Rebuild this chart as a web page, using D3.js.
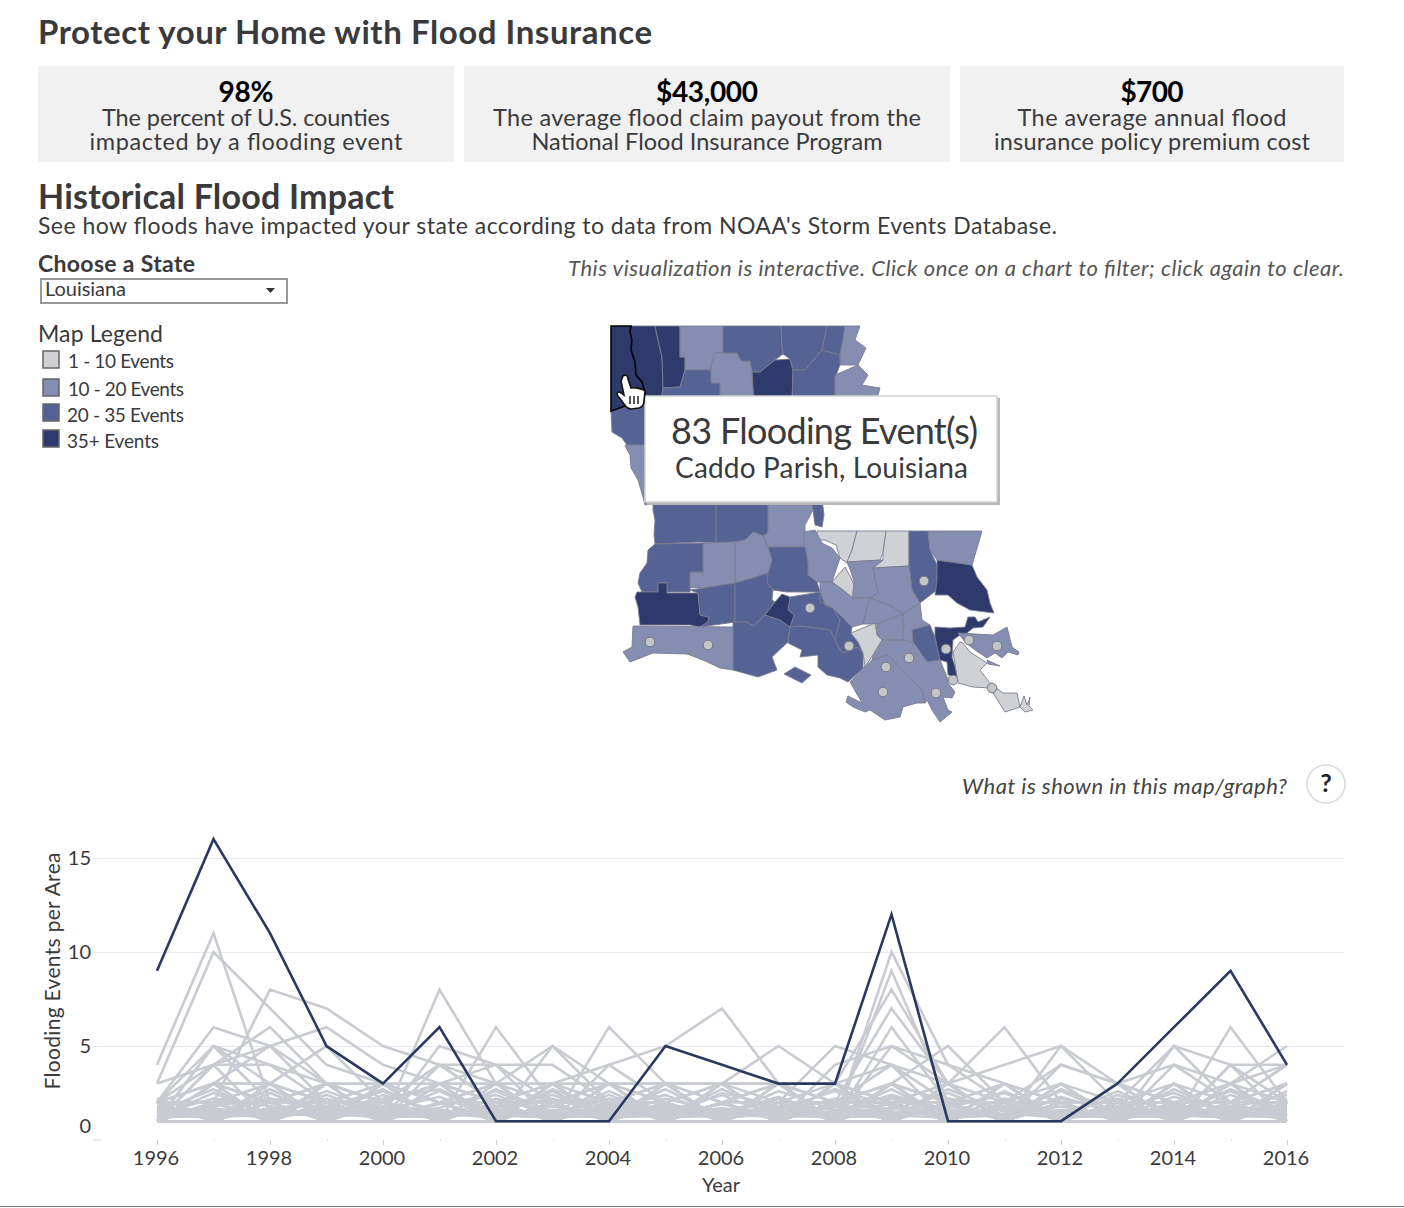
<!DOCTYPE html>
<html lang="en">
  <head>
    <meta charset="UTF-8" />
    <title>Protect your Home with Flood Insurance</title>
    <script src="https://cdnjs.cloudflare.com/ajax/libs/d3/7.8.5/d3.min.js"></script>
    <style>
      html, body { margin: 0; padding: 0; background: #fff; }
      svg { display: block; }
      text { font-family: Lato, "Open Sans", sans-serif; fill: #3a3a3c; }
      .tick line { shape-rendering: crispEdges; }
    </style>
  </head>
  <body>
    <svg id="chart" width="1404" height="1208"></svg>
    <script>
      // ---- data ----
      const years = d3.range(1996, 2017);
      const yTicks = [0, 5, 10, 15];

      // Caddo Parish, the selected line
      const caddoEvents = [9, 16, 11, 5, 3, 6, 1, 1, 1, 5, 4, 3, 3, 12, 1, 1, 1, 3, 6, 9, 4];

      // every other parish, grey
      const otherParishEvents = [
        [4, 11, 2, 1, 1, 2, 3, 1, 1, 2, 1, 2, 1, 2, 1, 1, 2, 1, 2, 1, 2],
        [3, 10, 7, 4, 3, 2, 1, 2, 1, 1, 2, 1, 3, 4, 1, 2, 1, 1, 1, 2, 1],
        [2, 6, 5, 3, 2, 3, 2, 1, 2, 1, 1, 1, 2, 7, 3, 2, 1, 1, 2, 1, 3],
        [2, 2, 8, 7, 5, 4, 2, 1, 2, 2, 1, 1, 2, 3, 2, 1, 1, 2, 1, 1, 2],
        [1, 4, 6, 3, 2, 1, 1, 2, 1, 3, 2, 1, 1, 9, 2, 1, 2, 1, 3, 1, 1],
        [2, 5, 2, 2, 1, 8, 3, 2, 1, 1, 1, 2, 1, 5, 3, 1, 2, 1, 1, 2, 4],
        [3, 4, 5, 6, 4, 3, 2, 3, 1, 1, 2, 3, 1, 10, 4, 2, 1, 1, 1, 1, 2],
        [1, 5, 4, 2, 1, 5, 4, 2, 1, 2, 1, 1, 3, 8, 3, 6, 2, 1, 2, 1, 1],
        [2, 3, 5, 2, 2, 1, 6, 2, 1, 1, 1, 2, 1, 6, 2, 3, 1, 2, 1, 3, 5],
        [1, 5, 3, 5, 3, 2, 1, 5, 2, 1, 1, 2, 5, 4, 2, 1, 5, 2, 3, 1, 2],
        [2, 4, 4, 3, 2, 4, 4, 1, 6, 3, 1, 1, 2, 3, 1, 2, 1, 1, 5, 2, 1],
        [1, 2, 3, 5, 2, 1, 2, 1, 4, 5, 7, 3, 2, 1, 2, 1, 3, 1, 1, 6, 2],
        [1, 1, 2, 3, 2, 4, 3, 5, 3, 3, 3, 5, 3, 2, 1, 1, 4, 3, 1, 4, 4],
        [2, 3, 2, 1, 1, 3, 4, 4, 2, 1, 2, 1, 4, 5, 4, 3, 2, 1, 4, 3, 4],
        [1, 4, 1, 2, 1, 4, 2, 3, 4, 2, 3, 3, 2, 4, 3, 4, 5, 3, 2, 1, 3],
        [1, 3, 3, 2, 3, 2, 1, 3, 2, 3, 1, 2, 2, 3, 5, 2, 1, 2, 5, 4, 1],
        [2, 1, 1, 2, 1, 1, 2, 2, 3, 1, 1, 1, 1, 2, 2, 2, 4, 3, 4, 2, 3],
        [1, 3, 2, 3, 3, 3, 3, 3, 3, 3, 3, 3, 1, 3, 1, 3, 2, 1, 1, 4, 2],
        [1, 2, 1, 1, 3, 1, 2, 1, 2, 1, 3, 2, 1, 1, 2, 1, 1, 2, 2, 3, 1],
        [2, 1, 3, 2, 1, 2, 1, 2, 1, 1, 1, 3, 2, 2, 1, 2, 1, 3, 1, 1, 2],
        [1, 1, 2, 3, 1, 2, 3, 1, 3, 2, 1, 1, 1, 3, 2, 1, 3, 1, 2, 2, 4],
        [1, 2, 1, 1, 2, 1, 1, 3, 1, 2, 3, 1, 2, 1, 3, 1, 2, 2, 1, 3, 1],
        [1, 1, 1, 2, 3, 2, 2, 1, 2, 3, 1, 2, 1, 2, 1, 3, 1, 1, 3, 1, 3],
        [2, 3, 3, 1, 1, 1, 1, 2, 1, 1, 2, 1, 3, 1, 1, 2, 2, 1, 1, 2, 1],
        [1, 1, 3, 2, 2, 3, 1, 1, 2, 1, 1, 2, 1, 3, 2, 1, 1, 3, 2, 1, 2],
        [1, 2, 2, 1, 3, 1, 2, 1, 1, 3, 2, 1, 2, 1, 1, 3, 1, 2, 1, 2, 3],
        [1, 3, 1, 3, 1, 2, 1, 2, 3, 1, 1, 3, 1, 2, 3, 1, 2, 1, 2, 1, 1],
        [1, 1, 2, 1, 2, 1, 3, 1, 1, 2, 3, 1, 1, 1, 2, 2, 1, 1, 3, 2, 2],
        [2, 2, 1, 2, 1, 1, 1, 3, 2, 1, 1, 1, 2, 2, 3, 1, 1, 2, 1, 1, 1],
        [1, 1, 1, 1, 2, 3, 2, 2, 1, 2, 1, 2, 3, 1, 1, 1, 3, 2, 2, 3, 2],
        [1, 2, 3, 1, 1, 1, 1, 1, 3, 1, 2, 3, 1, 3, 1, 2, 2, 1, 1, 1, 3],
        [1, 1, 1, 3, 2, 1, 2, 2, 1, 3, 1, 1, 2, 1, 2, 1, 1, 3, 2, 2, 1],
        [2, 1, 2, 2, 1, 2, 1, 1, 2, 1, 3, 1, 1, 2, 1, 3, 2, 1, 1, 3, 1],
        [1, 3, 1, 1, 3, 1, 1, 3, 1, 1, 2, 2, 1, 1, 3, 1, 1, 1, 2, 1, 2],
        [1, 1, 2, 1, 1, 2, 3, 1, 2, 2, 1, 1, 3, 2, 1, 1, 2, 2, 1, 2, 1],
        [1, 2, 1, 3, 1, 1, 2, 1, 1, 1, 2, 3, 1, 1, 2, 2, 1, 3, 1, 1, 1],
        [1, 1, 3, 1, 2, 1, 1, 2, 2, 3, 1, 1, 1, 1, 1, 2, 3, 1, 3, 1, 1],
        [2, 2, 1, 1, 1, 3, 1, 1, 1, 1, 1, 2, 2, 3, 1, 1, 1, 2, 1, 1, 3],
        [1, 1, 1, 2, 1, 1, 2, 1, 3, 2, 1, 1, 1, 2, 2, 3, 1, 1, 1, 2, 1],
        [1, 3, 2, 1, 1, 2, 1, 2, 1, 1, 1, 1, 2, 1, 1, 1, 1, 1, 2, 1, 1],
        [1, 1, 1, 1, 1, 1, 1, 1, 2, 1, 1, 2, 1, 1, 1, 2, 1, 2, 1, 1, 2],
        [1, 1, 2, 1, 1, 1, 1, 1, 1, 2, 1, 1, 1, 1, 2, 1, 1, 1, 1, 2, 1],
        [1, 2, 1, 1, 2, 1, 1, 1, 1, 1, 2, 1, 1, 2, 1, 1, 1, 1, 2, 1, 1],
        [1, 1, 1, 2, 1, 1, 1, 2, 1, 1, 1, 1, 1, 1, 1, 1, 2, 1, 1, 1, 1],
        [2, 1, 1, 1, 1, 2, 1, 1, 1, 1, 1, 1, 2, 1, 1, 1, 1, 1, 1, 1, 2],
        [1, 1, 1, 1, 1, 1, 2, 1, 1, 1, 1, 1, 1, 1, 1, 1, 1, 2, 1, 1, 1],
        [1.5, 1.2, 2.5, 1.3, 1.8, 1.2, 2.2, 1.4, 1.7, 2.4, 1.2, 1.6, 2.6, 1.3, 1.9, 1.2, 2.3, 1.4, 1.8, 1.2, 1.6],
        [1.2, 2.5, 1.3, 2.2, 1.4, 2.6, 1.2, 1.8, 1.3, 1.5, 2.4, 1.2, 1.4, 2.7, 1.2, 2.2, 1.4, 1.6, 2.5, 1.3, 1.2],
        [1.7, 1.3, 1.6, 1.2, 2.4, 1.5, 1.3, 2.6, 1.2, 1.9, 1.4, 2.3, 1.2, 1.6, 2.5, 1.3, 1.5, 2.2, 1.2, 1.7, 2.4],
        [1.3, 1.8, 2.2, 1.5, 1.2, 1.9, 2.4, 1.2, 2.6, 1.3, 1.7, 1.2, 1.9, 2.3, 1.4, 1.6, 1.2, 2.4, 1.5, 2.6, 1.3],
        [1.6, 1.2, 1.4, 2.6, 1.5, 1.3, 1.7, 2.2, 1.4, 1.2, 2.5, 1.8, 1.3, 1.2, 1.7, 2.5, 1.3, 1.2, 2.3, 1.5, 1.9],
        [1.2, 1.6, 1.2, 1.7, 2.7, 1.2, 1.5, 1.3, 2.2, 1.6, 1.3, 2.6, 1.6, 1.9, 1.2, 1.4, 2.6, 1.3, 1.2, 1.8, 1.4],
        [1.4, 2.2, 1.8, 1.2, 1.6, 2.3, 1.2, 1.6, 1.4, 2.7, 1.2, 1.4, 2.2, 1.5, 1.3, 2.6, 1.2, 1.7, 1.4, 1.2, 2.6],
        [1.8, 1.4, 1.2, 1.6, 1.3, 1.7, 2.6, 1.3, 1.2, 1.4, 1.9, 1.3, 1.5, 2.4, 1.6, 1.2, 1.8, 1.2, 2.7, 1.4, 1.2],
        [1.2, 1.3, 2.7, 1.4, 2, 1.4, 1.3, 1.2, 2.4, 1.2, 1.6, 2, 1.2, 1.3, 2.2, 1.7, 1.3, 2.6, 1.3, 1.6, 1.8],
        [1.5, 2.7, 1.2, 1.8, 1.2, 1.3, 1.8, 2.4, 1.5, 1.2, 1.3, 1.5, 2.7, 1.8, 1.2, 1.3, 2.2, 1.5, 1.2, 2.4, 1.3],
        [1.3, 1.2, 1.5, 1.3, 2.2, 2.7, 1.4, 1.2, 1.3, 2.2, 1.5, 1.2, 1.8, 1.2, 2.7, 1.5, 1.2, 1.3, 1.6, 1.2, 2.2],
        [1.2, 1.5, 1.3, 2.4, 1.3, 1.2, 2.7, 1.5, 1.2, 1.3, 2.7, 1.5, 1.2, 1.5, 1.3, 1.8, 1.5, 1.2, 1.3, 2.7, 1.5],
        [2.2, 1.2, 1.7, 1.2, 1.5, 1.6, 1.2, 2.7, 1.6, 1.8, 1.2, 1.7, 1.4, 2.2, 1.5, 1.2, 2.7, 1.5, 1.7, 1.3, 1.2],
        [1.4, 1.7, 1.2, 1.5, 2.6, 1.2, 1.6, 1.4, 1.8, 1.2, 1.5, 2.2, 1.3, 1.7, 1.2, 2.2, 1.3, 1.8, 1.2, 1.5, 1.7],
        [1.6, 1.3, 2.2, 1.7, 1.2, 1.4, 1.2, 1.8, 1.3, 1.6, 1.2, 1.4, 1.8, 1.2, 1.6, 1.3, 1.5, 1.2, 1.9, 1.3, 1.4],
        [1.2, 1.9, 1.4, 1.3, 1.7, 1.2, 1.8, 1.2, 1.6, 1.3, 1.4, 1.2, 1.5, 1.7, 1.3, 1.4, 1.2, 1.6, 1.3, 1.2, 1.8],
        [1.3, 1.5, 1.2, 1.8, 1.3, 1.6, 1.3, 1.4, 1.2, 1.7, 1.6, 1.3, 1.2, 1.4, 1.8, 1.2, 1.6, 1.3, 1.5, 1.7, 1.2],
        [1.7, 1.2, 1.6, 1.4, 1.2, 1.5, 1.4, 1.2, 1.9, 1.4, 1.2, 1.8, 1.6, 1.3, 1.2, 1.7, 1.4, 1.2, 1.6, 1.4, 1.5]
      ];

      const legendLabels = ["1 - 10 Events", "10 - 20 Events", "20 - 35 Events", "35+ Events"];
      const legendColors = ["#d0d1d4", "#858db0", "#556394", "#2e3a6c"];

      // parish outlines as [class, [u, v] ...], traced in map units off the picture
      const parishes = [
        [2, [[11, 91], [25, 86], [47, 80], [60, 95], [60, 125], [27, 125], [22, 118], [12, 112]]],
        [1, [[25, 125], [60, 125], [60, 183], [45, 185], [43, 177], [38, 160], [31, 148], [30, 135], [27, 130]]],
        [3, [[31, 6], [55, 6], [58, 20], [62, 37], [63, 68], [62, 78], [45, 78], [42, 62], [36, 55], [35, 42], [31, 30], [32, 20], [30, 12]]],
        [3, [[55, 6], [80, 6], [80, 37], [85, 37], [85, 50], [80, 67], [63, 68], [62, 37], [58, 20]]],
        [1, [[80, 6], [123, 6], [123, 33], [115, 33], [111, 45], [111, 50], [85, 50], [85, 37], [80, 37]]],
        [2, [[85, 50], [111, 50], [111, 63], [120, 63], [120, 85], [62, 85], [62, 75], [63, 68], [80, 67]]],
        [1, [[115, 33], [137, 33], [141, 41], [150, 41], [152, 59], [155, 85], [120, 85], [120, 63], [111, 63], [111, 45]]],
        [2, [[123, 6], [181, 6], [182, 25], [183, 34], [175, 40], [160, 52], [152, 52], [150, 41], [141, 41], [137, 33], [123, 33]]],
        [3, [[152, 52], [160, 52], [175, 40], [190, 39], [193, 50], [192, 85], [155, 85], [153, 68]]],
        [2, [[181, 6], [227, 6], [222, 30], [205, 50], [193, 50], [190, 39], [183, 34], [182, 25]]],
        [2, [[227, 6], [245, 6], [243, 20], [240, 35], [222, 30]]],
        [1, [[245, 6], [260, 6], [255, 20], [266, 28], [258, 45], [240, 45], [240, 35], [243, 20]]],
        [2, [[193, 50], [205, 50], [222, 30], [240, 35], [240, 45], [235, 58], [235, 85], [192, 85]]],
        [1, [[235, 55], [258, 45], [268, 55], [262, 65], [280, 68], [275, 85], [235, 85]]],
        [2, [[53, 175], [116, 175], [116, 223], [100, 222], [55, 224], [54, 215], [55, 200], [53, 190]]],
        [2, [[116, 175], [168, 175], [168, 213], [163, 216], [153, 212], [145, 220], [135, 222], [116, 223]]],
        [1, [[168, 175], [210, 175], [213, 190], [205, 205], [205, 227], [168, 227], [163, 216], [168, 213]]],
        [2, [[210, 175], [222, 178], [224, 195], [222, 207], [215, 205], [213, 190]]],
        [0, [[217, 211], [257, 211], [252, 230], [247, 243], [240, 238], [236, 225], [225, 220], [217, 220]]],
        [0, [[257, 211], [286, 211], [283, 233], [280, 240], [247, 242], [252, 230]]],
        [0, [[286, 211], [309, 211], [309, 246], [273, 248], [283, 240], [283, 233]]],
        [2, [[309, 211], [328, 211], [330, 230], [337, 245], [337, 270], [320, 283], [312, 270], [309, 246]]],
        [3, [[337, 240], [372, 245], [377, 257], [387, 270], [390, 283], [394, 293], [370, 290], [357, 283], [348, 275], [335, 275], [337, 260]]],
        [1, [[328, 211], [382, 211], [378, 225], [372, 245], [337, 240], [330, 230]]],
        [1, [[204, 212], [215, 210], [222, 223], [232, 228], [240, 238], [232, 262], [210, 262], [205, 255], [208, 240], [204, 226]]],
        [0, [[232, 262], [245, 247], [251, 258], [254, 265], [252, 278], [243, 270]]],
        [1, [[247, 242], [283, 240], [273, 248], [278, 273], [270, 278], [253, 278], [254, 262], [251, 252]]],
        [1, [[273, 248], [309, 246], [312, 270], [320, 283], [303, 294], [293, 287], [270, 278], [278, 273]]],
        [1, [[220, 262], [232, 262], [243, 270], [253, 278], [270, 278], [263, 304], [252, 307], [240, 295], [233, 288], [220, 282]]],
        [1, [[270, 278], [293, 287], [303, 294], [277, 304], [263, 304]]],
        [1, [[277, 304], [303, 294], [303, 322], [280, 320], [276, 312]]],
        [1, [[303, 294], [320, 283], [322, 300], [330, 305], [312, 310], [313, 322], [303, 322]]],
        [2, [[312, 310], [330, 305], [335, 317], [340, 340], [327, 342], [313, 322]]],
        [3, [[335, 307], [350, 308], [365, 307], [368, 297], [375, 297], [378, 302], [390, 297], [383, 307], [373, 308], [367, 313], [360, 315], [353, 320], [352, 337], [358, 357], [348, 355], [347, 342], [340, 340], [335, 317]]],
        [0, [[360, 322], [353, 332], [358, 363], [373, 367], [390, 368], [405, 392], [420, 387], [417, 373], [403, 373], [390, 363], [380, 350], [387, 343], [370, 332], [363, 323]]],
        [0, [[420, 387], [424, 376], [427, 385], [430, 377], [429, 386], [433, 390], [425, 392]]],
        [1, [[358, 313], [393, 315], [407, 307], [412, 327], [419, 332], [418, 335], [408, 332], [402, 338], [395, 333], [387, 338], [375, 330], [365, 322]]],
        [1, [[387, 340], [400, 346], [388, 344]]],
        [1, [[273, 335], [280, 320], [302, 320], [313, 322], [327, 342], [340, 340], [347, 357], [348, 363], [355, 372], [352, 378], [343, 377], [348, 390], [352, 392], [340, 402], [332, 390], [327, 380], [325, 383], [322, 370], [288, 335], [272, 340]]],
        [1, [[288, 335], [322, 370], [325, 383], [317, 383], [303, 387], [300, 397], [285, 400], [270, 390], [265, 392], [253, 387], [246, 382], [248, 376], [262, 383], [250, 362], [263, 348], [272, 340]]],
        [2, [[168, 227], [205, 227], [208, 243], [208, 255], [217, 262], [220, 272], [187, 272], [173, 270], [167, 263], [147, 262], [165, 250], [170, 240]]],
        [1, [[135, 223], [145, 220], [153, 212], [163, 216], [168, 227], [172, 240], [168, 253], [153, 258], [135, 263]]],
        [1, [[103, 223], [135, 222], [135, 263], [110, 267], [90, 268], [90, 252], [103, 252]]],
        [2, [[55, 224], [103, 223], [103, 252], [90, 252], [90, 272], [67, 272], [67, 263], [58, 263], [58, 272], [42, 272], [38, 263], [40, 253], [47, 243], [48, 230]]],
        [3, [[37, 272], [58, 272], [58, 263], [67, 263], [67, 273], [98, 273], [100, 295], [109, 297], [108, 302], [100, 307], [90, 305], [40, 305], [38, 287], [35, 277]]],
        [2, [[90, 270], [110, 267], [135, 263], [135, 302], [100, 307], [108, 302], [109, 297], [100, 295], [98, 273]]],
        [2, [[135, 263], [153, 258], [168, 253], [167, 263], [173, 270], [172, 280], [175, 282], [165, 295], [153, 306], [147, 302], [135, 302]]],
        [2, [[190, 277], [220, 272], [225, 285], [233, 288], [240, 300], [235, 320], [230, 310], [200, 306], [190, 307], [194, 295], [188, 290]]],
        [2, [[133, 302], [147, 302], [153, 306], [165, 295], [180, 300], [190, 307], [188, 322], [172, 337], [177, 350], [158, 357], [133, 350]]],
        [2, [[190, 307], [200, 306], [230, 310], [235, 320], [242, 333], [257, 327], [263, 333], [263, 348], [248, 362], [240, 358], [227, 355], [218, 347], [218, 335], [200, 337], [202, 330], [188, 323]]],
        [2, [[220, 272], [220, 282], [233, 288], [240, 295], [252, 307], [251, 313], [258, 322], [263, 333], [257, 327], [242, 333], [235, 320], [240, 300], [233, 288], [225, 285]]],
        [0, [[251, 313], [275, 303], [277, 315], [282, 320], [273, 335], [265, 347], [263, 333], [258, 322]]],
        [3, [[182, 274], [190, 277], [188, 290], [194, 295], [190, 307], [180, 300], [165, 295], [175, 282]]],
        [1, [[33, 306], [133, 307], [133, 350], [120, 348], [103, 340], [87, 334], [53, 333], [30, 342], [23, 332], [32, 327]]],
        [2, [[195, 347], [211, 355], [202, 363], [184, 354]]]
      ];

      // Caddo Parish outline, highlighted
      const caddoOutline = [[11, 6], [31, 6], [30, 12], [32, 20], [31, 30], [35, 42], [36, 55], [42, 62], [45, 72], [45, 82], [25, 86], [11, 91]];

      // single-point parishes shown as dots
      const dotParishes = [[50, 322], [108, 325], [210, 288], [324, 261], [249, 326], [286, 347], [309, 338], [283, 372], [336, 373], [346, 329], [369, 320], [397, 326], [353, 360], [392, 368]];

      // ---- layout ----
      const svg = d3.select("#chart");

      const addText = (s, x, y, size, width, opts = {}) => {
        const t = svg.append("text").attr("x", x).attr("y", y).attr("font-size", size).text(s);
        if (width) t.attr("textLength", width).attr("lengthAdjust", "spacing");
        if (opts.weight) t.attr("font-weight", opts.weight);
        if (opts.italic) t.attr("font-style", "italic");
        if (opts.anchor) t.attr("text-anchor", opts.anchor);
        if (opts.fill) t.style("fill", opts.fill);
        return t;
      };

      addText("Protect your Home with Flood Insurance", 38, 44, 33, 614, { weight: 700 });

      const kpis = [
        { x: 38, w: 416, head: "98%", headW: 55, l1: "The percent of U.S. counties", w1: 288, l2: "impacted by a flooding event", w2: 313 },
        { x: 464, w: 486, head: "$43,000", headW: 102, l1: "The average flood claim payout from the", w1: 428, l2: "National Flood Insurance Program", w2: 351 },
        { x: 960, w: 384, head: "$700", headW: 63, l1: "The average annual flood", w1: 269, l2: "insurance policy premium cost", w2: 316 }
      ];
      kpis.forEach((k) => {
        svg.append("rect").attr("x", k.x).attr("y", 66).attr("width", k.w).attr("height", 96).attr("fill", "#f1f1f2");
        const c = k.x + k.w / 2;
        const t = svg.append("text").attr("font-size", 23.5);
        t.append("tspan").attr("x", c - k.headW / 2).attr("y", 102).attr("font-size", 28).attr("font-weight", 700)
          .attr("textLength", k.headW).style("fill", "#000").text(k.head);
        t.append("tspan").attr("x", c - k.w1 / 2).attr("y", 126).attr("textLength", k.w1).text(k.l1);
        t.append("tspan").attr("x", c - k.w2 / 2).attr("y", 150).attr("textLength", k.w2).text(k.l2);
      });

      addText("Historical Flood Impact", 38, 209, 34, 356, { weight: 700 });
      addText("See how floods have impacted your state according to data from NOAA's Storm Events Database.", 38, 234, 23, 1019);
      addText("Choose a State", 38, 272, 23, 157, { weight: 700 });

      svg.append("rect").attr("x", 41).attr("y", 279).attr("width", 246).attr("height", 24)
        .attr("fill", "#fff").attr("stroke", "#9a9a9a").attr("stroke-width", 2);
      addText("Louisiana", 45, 296, 20, 81);
      svg.append("path").attr("d", "M266,288h9l-4.5,5z").attr("fill", "#333");

      addText("This visualization is interactive. Click once on a chart to filter; click again to clear.", 568, 276, 22, 776, { italic: true, fill: "#555" });

      addText("Map Legend", 38, 342, 23, 125);
      const legendY = [351, 379, 404, 430];
      const legendTextY = [368, 396, 422, 448];
      const legendTextX = [68, 68, 67, 67];
      const legendTextW = [106, 116, 117, 92];
      legendLabels.forEach((d, i) => {
        svg.append("rect").attr("x", 43).attr("y", legendY[i]).attr("width", 16).attr("height", 17)
          .attr("fill", legendColors[i]).attr("stroke", "#666").attr("stroke-width", 1.5);
        addText(d, legendTextX[i], legendTextY[i], 19, legendTextW[i]);
      });

      // ---- map ----
      const mapX = d3.scaleLinear().domain([0, 440]).range([600, 1040]);
      const mapY = d3.scaleLinear().domain([0, 410]).range([320, 730]);
      const outline = d3.line().x((d) => mapX(d[0])).y((d) => mapY(d[1])).curve(d3.curveLinearClosed);

      const map = svg.append("g");
      map.selectAll("path.parish").data(parishes).join("path")
        .attr("class", "parish")
        .attr("d", (d) => outline(d[1]))
        .attr("fill", (d) => legendColors[d[0]])
        .attr("stroke", "#7a7d90").attr("stroke-width", 0.9).attr("stroke-linejoin", "round");
      map.append("path").attr("d", outline(caddoOutline))
        .attr("fill", legendColors[3]).attr("stroke", "#000").attr("stroke-width", 1.6);
      map.selectAll("circle").data(dotParishes).join("circle")
        .attr("cx", (d) => mapX(d[0])).attr("cy", (d) => mapY(d[1])).attr("r", 4.8)
        .attr("fill", "#c4c5c9").attr("stroke", "#777a85").attr("stroke-width", 1);

      // tooltip
      svg.append("rect").attr("x", 647).attr("y", 398).attr("width", 353).attr("height", 107).attr("fill", "#b8b8b8");
      svg.append("rect").attr("x", 645).attr("y", 396).attr("width", 352).attr("height", 106)
        .attr("fill", "#fff").attr("stroke", "#d2d2d2").attr("stroke-width", 1.5);
      addText("83 Flooding Event(s)", 671, 444, 36, 307);
      addText("Caddo Parish, Louisiana", 675, 478, 28, 293);

      // hand cursor
      svg.append("path")
        .attr("d", "M623,376c3,-2 5,0 5,3l3,9c4,-1 12,1 14,3l-1,10c0,3 -2,6 -5,7l-8,1c-3,0 -5,-2 -7,-5l-6,-8c-2,-2 -1,-4 2,-4l4,3l-3,-14z")
        .attr("fill", "#fff").attr("stroke", "#111").attr("stroke-width", 1.6);
      svg.append("path").attr("d", "M630,396v8M634,396v8M638,396v8").attr("stroke", "#111").attr("stroke-width", 1.4);

      addText("What is shown in this map/graph?", 962, 794, 22, 325, { italic: true, fill: "#444" });
      svg.append("circle").attr("cx", 1326).attr("cy", 784).attr("r", 19).attr("fill", "#fff").attr("stroke", "#d8d8dc").attr("stroke-width", 1.5);
      addText("?", 1326, 792, 25, null, { weight: 700, anchor: "middle", fill: "#222" });

      // ---- line chart ----
      const x = d3.scaleLinear().domain([1996, 2016]).range([157, 1287]);
      const y = d3.scaleLinear().domain([0, 15]).range([1140, 858]);

      const yAxis = svg.append("g").attr("transform", "translate(93,0)")
        .call(d3.axisLeft(y).tickValues(yTicks).tickSize(-1251).tickFormat(d3.format("d")));
      yAxis.select(".domain").remove();
      yAxis.selectAll(".tick line").attr("stroke", (d) => (d === 0 ? "none" : "#e8e8f0")).attr("stroke-width", 1.5);
      yAxis.selectAll(".tick text").attr("x", -2).attr("font-size", 20).attr("dy", (d) => (d === 0 ? "-0.4em" : "0.32em"))
        .attr("font-family", null);
      svg.append("line").attr("x1", 93).attr("x2", 101).attr("y1", y(0)).attr("y2", y(0)).attr("stroke", "#cfcfcf");

      const xAxis = svg.append("g").attr("transform", "translate(0," + y(0) + ")")
        .call(d3.axisBottom(x).tickValues(years).tickSize(0).tickPadding(11)
          .tickFormat((d) => (d % 2 === 0 ? String(d) : "")));
      xAxis.select(".domain").remove();
      xAxis.selectAll(".tick line").attr("y2", (d) => (d % 2 === 0 ? 5 : 1)).attr("stroke", "#cfcfcf");
      xAxis.selectAll(".tick text").attr("font-size", 20).attr("dx", -1.5);

      const line = d3.line().x((d, i) => x(years[i])).y((d) => y(d));

      svg.append("g").attr("fill", "none").attr("stroke", "#c9cbd2").attr("stroke-width", 2.6)
        .selectAll("path").data(otherParishEvents).join("path").attr("d", line);
      svg.append("path").datum(caddoEvents).attr("d", line)
        .attr("fill", "none").attr("stroke", "#2b3860").attr("stroke-width", 2.6);

      addText("Year", 721, 1192, 20, null, { anchor: "middle" });
      svg.append("text").attr("transform", "translate(60,971) rotate(-90)").attr("text-anchor", "middle")
        .attr("font-size", 21).attr("textLength", 237).attr("lengthAdjust", "spacing").text("Flooding Events per Area");

      svg.append("line").attr("x1", 0).attr("x2", 1404).attr("y1", 1206.5).attr("y2", 1206.5).attr("stroke", "#777");
    </script>
  </body>
</html>
